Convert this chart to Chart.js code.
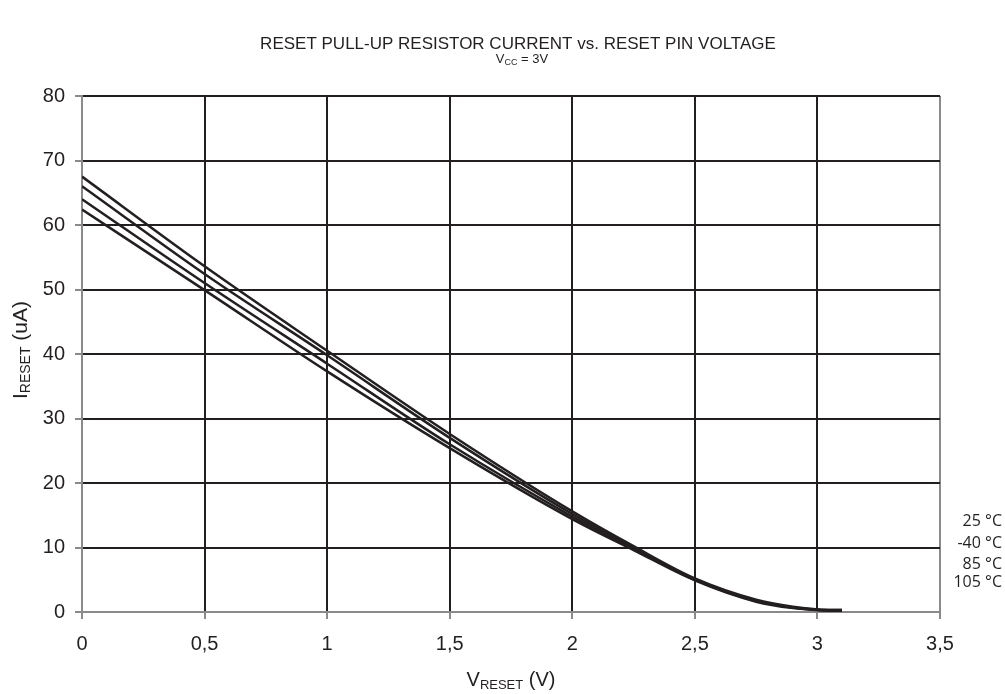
<!DOCTYPE html>
<html>
<head>
<meta charset="utf-8">
<title>Reset pull-up resistor current vs. reset pin voltage</title>
<script src="https://cdn.jsdelivr.net/npm/chart.js@4.4.1/dist/chart.umd.min.js"></script>
<style>
  html, body { margin: 0; padding: 0; background: #ffffff; }
  #chart { display: block; }
</style>
</head>
<body>
<canvas id="chart" width="1005" height="694"></canvas>
<script>
// Data (V_RESET in volts, I_RESET in uA)
const voltage = [0, 0.5, 1, 1.5, 2, 2.25, 2.5, 2.75, 2.9, 3, 3.1];
const current25 = [67.5, 53.6, 40.5, 27.6, 15.6, 10.2, 5.2, 1.9, 0.8, 0.4, 0.3];
const currentMinus40 = [66.0, 52.4, 39.8, 27.0, 15.2, 10.0, 5.1, 1.8, 0.7, 0.4, 0.3];
const current85 = [64.0, 51.0, 38.5, 26.0, 14.8, 9.8, 5.0, 1.7, 0.7, 0.3, 0.2];
const current105 = [62.4, 49.9, 37.3, 25.4, 14.4, 9.6, 4.9, 1.6, 0.6, 0.3, 0.2];
const seriesLabels = ["25 °C", "-40 °C", "85 °C", "105 °C"];
const xTicks = [0, 0.5, 1, 1.5, 2, 2.5, 3, 3.5];
const yTicks = [0, 10, 20, 30, 40, 50, 60, 70, 80];

const INK = "#231f20";
const AXIS_GREY = "#8a8a8a";
const SANS = "'Liberation Sans', Arial, sans-serif";

// Build {x, y} points for one series
function toPoints(values) {
  return voltage.map((v, i) => ({ x: v, y: values[i] }));
}

// Draw text with a subscript part, e.g. V + CC + " = 3V"
function drawSubText(ctx, parts, x, y, align) {
  let total = 0;
  parts.forEach((p) => {
    ctx.font = p.font;
    total += ctx.measureText(p.text).width;
  });
  let cx = align === "center" ? x - total / 2 : x;
  parts.forEach((p) => {
    ctx.font = p.font;
    ctx.textAlign = "left";
    ctx.fillText(p.text, cx, y + (p.dy || 0));
    cx += ctx.measureText(p.text).width;
  });
}

// Titles, axis titles and the series labels at the right edge
const annotations = {
  id: "annotations",
  afterDraw(chart) {
    const ctx = chart.ctx;
    const area = chart.chartArea;
    ctx.save();
    ctx.fillStyle = INK;
    ctx.textBaseline = "alphabetic";

    // Main title
    ctx.font = "17px " + SANS;
    ctx.textAlign = "center";
    ctx.fillText("RESET PULL-UP RESISTOR CURRENT vs. RESET PIN VOLTAGE", 518, 49);

    // Subtitle
    drawSubText(ctx, [
      { text: "V", font: "13px " + SANS },
      { text: "CC", font: "9px " + SANS, dy: 2 },
      { text: " = 3V", font: "13px " + SANS },
    ], 522, 63, "center");

    // X axis title
    drawSubText(ctx, [
      { text: "V", font: "20px " + SANS },
      { text: "RESET", font: "13px " + SANS, dy: 3 },
      { text: " (V)", font: "20px " + SANS },
    ], (area.left + area.right) / 2, 686, "center");

    // Y axis title (rotated)
    ctx.save();
    ctx.translate(27, 350);
    ctx.rotate(-Math.PI / 2);
    drawSubText(ctx, [
      { text: "I", font: "21px " + SANS },
      { text: "RESET", font: "14px " + SANS, dy: 3 },
      { text: " (uA)", font: "21px " + SANS },
    ], 0, 0, "center");
    ctx.restore();

    // Series labels
    ctx.font = "16px 'Open Sans', 'Noto Sans', sans-serif";
    ctx.textAlign = "right";
    ctx.textBaseline = "middle";
    const labelY = [521, 543, 564, 582];
    seriesLabels.forEach((label, i) => {
      ctx.fillText(label, 1002, labelY[i]);
    });
    ctx.restore();
  },
};

function makeDataset(label, values) {
  return {
    label: label,
    data: toPoints(values),
    borderColor: INK,
    borderWidth: 2.5,
    pointRadius: 0,
    fill: false,
    cubicInterpolationMode: "monotone",
  };
}

new Chart(document.getElementById("chart"), {
  type: "line",
  data: {
    datasets: [
      makeDataset(seriesLabels[0], current25),
      makeDataset(seriesLabels[1], currentMinus40),
      makeDataset(seriesLabels[2], current85),
      makeDataset(seriesLabels[3], current105),
    ],
  },
  options: {
    responsive: false,
    animation: false,
    layout: {
      padding: { top: 96, right: 65, left: 0, bottom: 0 },
    },
    plugins: {
      legend: { display: false },
      title: { display: false },
      tooltip: { enabled: false },
    },
    scales: {
      x: {
        type: "linear",
        min: xTicks[0],
        max: xTicks[xTicks.length - 1],
        afterFit: (scale) => { scale.height = 82; },
        afterBuildTicks: (scale) => {
          scale.ticks = xTicks.map((v) => ({ value: v }));
        },
        ticks: {
          color: INK,
          padding: 13,
          font: { family: SANS, size: 20 },
          callback: (value) => String(value).replace(".", ","),
        },
        grid: {
          color: (c) => (c.tick && c.tick.value === 3.5 ? AXIS_GREY : INK),
          lineWidth: 2,
          tickColor: AXIS_GREY,
          tickLength: 7,
        },
        border: { color: AXIS_GREY, width: 2 },
      },
      y: {
        min: yTicks[0],
        max: yTicks[yTicks.length - 1],
        afterFit: (scale) => { scale.width = 82; },
        afterBuildTicks: (scale) => {
          scale.ticks = yTicks.map((v) => ({ value: v }));
        },
        ticks: {
          color: INK,
          padding: 10,
          font: { family: SANS, size: 20 },
        },
        grid: {
          color: INK,
          lineWidth: 2,
          tickColor: AXIS_GREY,
          tickLength: 7,
        },
        border: { color: AXIS_GREY, width: 2 },
      },
    },
  },
  plugins: [annotations],
});
</script>
</body>
</html>
